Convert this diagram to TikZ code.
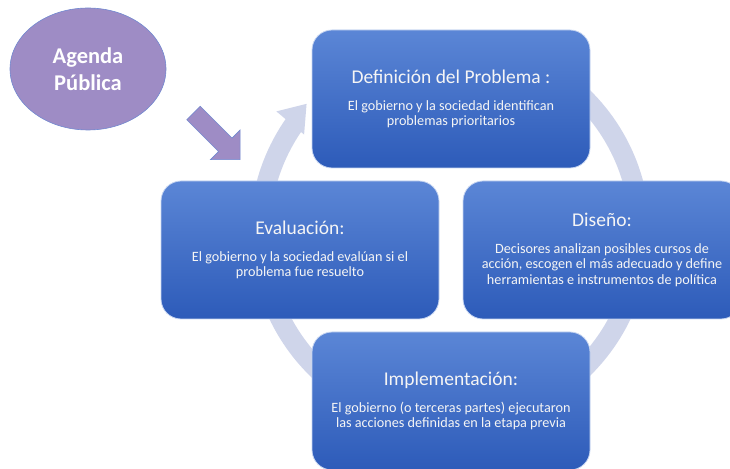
\documentclass[tikz,border=0pt]{standalone}
\usepackage{fontspec}
\setmainfont{Carlito}
\usetikzlibrary{shapes.geometric}
\definecolor{azularriba}{HTML}{5B86D6}
\definecolor{azulabajo}{HTML}{2D5BB9}
\definecolor{lavanda}{HTML}{9E8CC5}
\definecolor{bordelav}{HTML}{7088D0}
\definecolor{anillo}{HTML}{CFD5EA}
\tikzstyle{etapa} = [rectangle, rounded corners=20pt, minimum width=278pt,
  minimum height=138pt, top color=azularriba, bottom color=azulabajo,
  draw=azularriba!35!white, line width=0.8pt, text=white!96!black,
  align=center, inner sep=0pt, font=\fontsize{14.2}{15.5}\selectfont]
\tikzstyle{agenda} = [ellipse, minimum width=156pt, minimum height=122pt,
  fill=lavanda, draw=bordelav, line width=0.6pt, text=white, align=center,
  font=\fontsize{22.5}{27}\selectfont\bfseries]
\tikzstyle{flecha} = [fill=lavanda, draw=bordelav, line width=0.6pt]
\tikzstyle{ciclo} = [draw=anillo, line width=20pt]
\newcommand{\etapa}[3]{node (e#1) [etapa]
  {{\fontsize{19.5}{22}\selectfont #2}\\[11pt]#3}}

\begin{document}
\begin{tikzpicture}[x=1pt,y=1pt]
\useasboundingbox (0,0) rectangle (730,468);
\clip (0,0) rectangle (730,468);
% Ring behind the stages
\coordinate (centro) at (450,235);
\begin{scope}[shift={(centro)}]
  \draw[ciclo] (145:190) arc[start angle=145, end angle=440, radius=190];
  \fill[anillo] (145:212) -- (138:193) -- (146:176) -- cycle;
\end{scope}

% Draw diagram elements
\path (451,369) \etapa{1}{Definición del Problema :}
  {El gobierno y la sociedad identifican\\problemas prioritarios};
\path (e1.center)+(151,-151) \etapa{2}{Diseño:}
  {Decisores analizan posibles cursos de\\acción, escogen el más adecuado y define\\herramientas e instrumentos de política};
\path (e1.center)+(0,-302) \etapa{3}{Implementación:}
  {El gobierno (o terceras partes) ejecutaron\\las acciones definidas en la etapa previa};
\path (e1.center)+(-151,-151) \etapa{4}{Evaluación:}
  {El gobierno y la sociedad evalúan si el\\problema fue resuelto};

\node (ag) [agenda] at (88,399) {Agenda\\Pública};

% Block arrow into the cycle
\begin{scope}[shift={(193.5,355)}, rotate=-45]
  \draw[flecha] (0,9.5) -- (45,9.5) -- (45,21) -- (66,0) -- (45,-21)
    -- (45,-9.5) -- (0,-9.5) -- cycle;
\end{scope}
\end{tikzpicture}
\end{document}
